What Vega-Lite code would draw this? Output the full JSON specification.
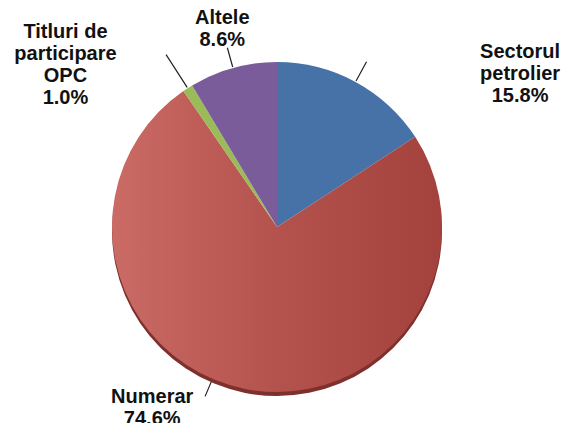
{
  "$schema": "https://vega.github.io/schema/vega-lite/v6.json",
  "width": 554,
  "height": 454,
  "autosize": "none",
  "padding": {"left": 0, "top": 0, "right": 11, "bottom": 0},
  "background": "white",
  "view": {"stroke": null},
  "data": {
    "values": [
      {"cat": "Sectorul petrolier", "value": 15.8, "order": 1, "label": "Sectorul\npetrolier\n15.8%"},
      {"cat": "Numerar", "value": 74.6, "order": 2, "label": "Numerar\n74.6%"},
      {"cat": "Titluri de participare OPC", "value": 1.0, "order": 3, "label": "Titluri de\nparticipare\nOPC\n1.0%"},
      {"cat": "Altele", "value": 8.6, "order": 4, "label": "Altele\n8.6%"}
    ]
  },
  "encoding": {
    "theta": {"field": "value", "type": "quantitative", "stack": true},
    "order": {"field": "order", "type": "quantitative"}
  },
  "resolve": {"scale": {"theta": "independent"}},
  "layer": [
    {
      "mark": {"type": "arc", "outerRadius": 165, "yOffset": 4},
      "encoding": {
        "fill": {
          "condition": {"test": "datum.cat === 'Numerar'", "value": "#7E302D"},
          "value": "transparent"
        }
      }
    },
    {
      "mark": {"type": "arc", "outerRadius": 165},
      "encoding": {
        "fill": {
          "condition": {
            "test": "datum.cat === 'Numerar'",
            "value": {
              "gradient": "linear",
              "x1": 0, "y1": 0, "x2": 1, "y2": 0,
              "stops": [
                {"offset": 0, "color": "#CB6B66"},
                {"offset": 0.5, "color": "#B4524D"},
                {"offset": 1, "color": "#A3413D"}
              ]
            }
          },
          "field": "cat",
          "type": "nominal",
          "scale": {
            "domain": ["Sectorul petrolier", "Numerar", "Titluri de participare OPC", "Altele"],
            "range": ["#4672A8", "#B5504B", "#9BBB59", "#7B5C9B"]
          },
          "legend": null
        }
      }
    },
    {
      "mark": {"type": "arc", "innerRadius": 166, "outerRadius": 186, "padAngle": 3, "fill": null, "stroke": "#222222", "strokeWidth": 1.2},
      "encoding": {
        "strokeOpacity": {"condition": {"test": "datum.cat === 'Altele'", "value": 1}, "value": 0}
      }
    },
    {
      "mark": {"type": "arc", "innerRadius": 166, "outerRadius": 188, "padAngle": 3, "fill": null, "stroke": "#222222", "strokeWidth": 1.2},
      "encoding": {
        "strokeOpacity": {"condition": {"test": "datum.cat === 'Sectorul petrolier'", "value": 1}, "value": 0}
      }
    },
    {
      "mark": {"type": "arc", "innerRadius": 166, "outerRadius": 205, "padAngle": 3, "fill": null, "stroke": "#222222", "strokeWidth": 1.2},
      "encoding": {
        "strokeOpacity": {"condition": {"test": "datum.cat === 'Titluri de participare OPC'", "value": 1}, "value": 0}
      }
    },
    {
      "mark": {"type": "arc", "innerRadius": 168, "outerRadius": 184, "padAngle": 3, "fill": null, "stroke": "#222222", "strokeWidth": 1.2},
      "encoding": {
        "theta": {"field": "value", "type": "quantitative", "stack": true, "scale": {"domain": [-59.68, 140.32]}},
        "strokeOpacity": {"condition": {"test": "datum.cat === 'Numerar'", "value": 1}, "value": 0}
      }
    },
    {
      "mark": {"type": "text", "radius": 195, "dx": -106, "dy": -31, "font": "Liberation Sans", "fontWeight": "bold", "fontSize": 20, "lineHeight": 22, "align": "center", "baseline": "middle", "lineBreak": "\n", "color": "#111111"},
      "encoding": {
        "text": {"condition": {"test": "datum.cat === 'Titluri de participare OPC'", "field": "label"}, "value": ""}
      }
    },
    {
      "mark": {"type": "text", "radius": 205, "dx": 0, "dy": -11, "font": "Liberation Sans", "fontWeight": "bold", "fontSize": 20, "lineHeight": 22, "align": "center", "baseline": "middle", "lineBreak": "\n", "color": "#111111"},
      "encoding": {
        "text": {"condition": {"test": "datum.cat === 'Altele'", "field": "label"}, "value": ""}
      }
    },
    {
      "mark": {"type": "text", "radius": 185, "dx": 155, "dy": -12, "font": "Liberation Sans", "fontWeight": "bold", "fontSize": 20, "lineHeight": 22, "align": "center", "baseline": "middle", "lineBreak": "\n", "color": "#111111"},
      "encoding": {
        "text": {"condition": {"test": "datum.cat === 'Sectorul petrolier'", "field": "label"}, "value": ""}
      }
    },
    {
      "mark": {"type": "text", "radius": 190, "dx": -88, "dy": -16, "font": "Liberation Sans", "fontWeight": "bold", "fontSize": 20, "lineHeight": 22, "align": "center", "baseline": "middle", "lineBreak": "\n", "color": "#111111"},
      "encoding": {
        "text": {"condition": {"test": "datum.cat === 'Numerar'", "field": "label"}, "value": ""}
      }
    }
  ]
}
